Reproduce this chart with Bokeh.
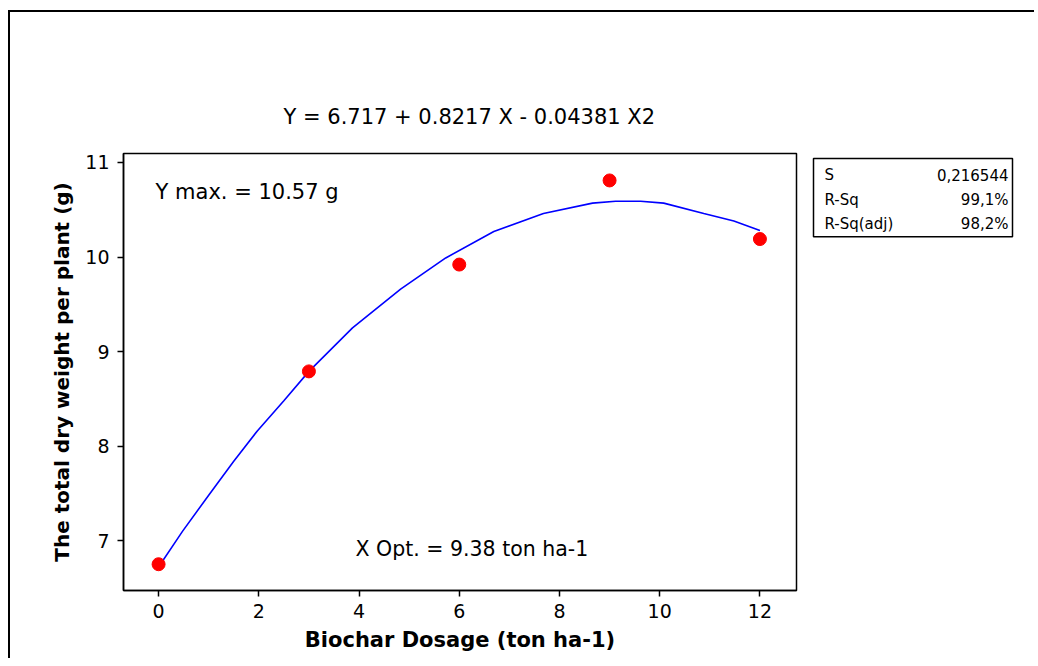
from bokeh.plotting import figure
from bokeh.models import Range1d, Label, FixedTicker
from bokeh.layouts import row
from bokeh.embed import file_html
from bokeh.resources import INLINE
from bokeh.core.properties import value

FONT = "DejaVu Sans"

# observed data
dose = [0, 3, 6, 9, 12]
dry_weight = [6.75, 8.79, 9.92, 10.81, 10.19]

# fitted curve vertices
fit_x = [0, 0.48, 1.0, 1.5, 1.97, 2.5, 3.0, 3.87, 4.83, 5.73, 6.69, 7.68, 8.66, 9.12, 9.62, 10.08, 10.88, 11.48, 12.0]
fit_y = [6.72, 7.10, 7.48, 7.84, 8.16, 8.48, 8.79, 9.25, 9.66, 9.99, 10.27, 10.46, 10.57, 10.59, 10.59, 10.57, 10.46, 10.38, 10.28]

x_ticks = [0, 2, 4, 6, 8, 10, 12]
y_ticks = [7, 8, 9, 10, 11]

equation = "Y =  6.717 + 0.8217 X - 0.04381 X2"
ymax_text = "Y max. =  10.57 g"
xopt_text = "X Opt. = 9.38 ton ha-1"
stat_names = ["S", "R-Sq", "R-Sq(adj)"]
stat_values = ["0,216544", "99,1%", "98,2%"]

H = 648
MBT, MBB = 141, 70

p = figure(width=800, height=H, output_backend="svg", toolbar_location=None,
           x_range=Range1d(-0.7, 12.73), y_range=Range1d(6.472, 11.095),
           min_border_left=113, min_border_right=14, min_border_top=MBT, min_border_bottom=MBB)
p.grid.visible = False
p.outline_line_color = "black"
p.outline_line_width = 1.5
p.background_fill_color = "white"
p.border_fill_color = "white"

p.title.text = equation
p.title.align = "left"
p.title.offset = 160
p.title.text_font = FONT
p.title.text_font_size = "21px"
p.title.text_font_style = "normal"
p.title.text_color = "black"
p.title.standoff = 49

p.xaxis.ticker = FixedTicker(ticks=x_ticks)
p.yaxis.ticker = FixedTicker(ticks=y_ticks)
for ax in (p.xaxis, p.yaxis):
    ax.axis_line_color = "black"
    ax.axis_line_width = 1.5
    ax.major_tick_line_color = "black"
    ax.major_tick_line_width = 1.5
    ax.major_tick_out = 6
    ax.major_tick_in = 0
    ax.minor_tick_line_color = None
    ax.major_label_text_font = FONT
    ax.major_label_text_font_size = "19px"
    ax.major_label_text_color = "black"
    ax.axis_label_text_font = FONT
    ax.axis_label_text_font_style = "bold"
    ax.axis_label_text_color = "black"
p.xaxis.axis_label_text_font_size = "21px"
p.yaxis.axis_label_text_font_size = "20px"
p.xaxis.axis_label = "Biochar Dosage (ton ha-1)"
p.yaxis.axis_label = "The total dry weight per plant (g)"
p.xaxis.major_label_standoff = 7
p.yaxis.major_label_standoff = 8
p.xaxis.axis_label_standoff = 7
p.yaxis.axis_label_standoff = 8

p.line(fit_x, fit_y, line_color="#0000ff", line_width=1.6)
p.scatter(dose, dry_weight, size=13, fill_color="#ff0000", line_color="#ff0000", marker="circle")

p.add_layout(Label(x=-0.06, y=10.69, text=ymax_text, text_align="left", text_baseline="middle",
                   text_font=FONT, text_font_size="21px", text_color="black"))
p.add_layout(Label(x=3.93, y=6.91, text=xopt_text, text_align="left", text_baseline="middle",
                   text_font=FONT, text_font_size="20.5px", text_color="black"))

# right panel with the statistics box (coordinates in page pixels)
q = figure(width=226, height=H, output_backend="svg", toolbar_location=None,
           x_range=Range1d(810, 1036), y_range=Range1d(589, 153),
           x_axis_type=None, y_axis_type=None,
           min_border_left=0, min_border_right=0, min_border_top=MBT, min_border_bottom=MBB)
q.grid.visible = False
q.outline_line_color = None
q.background_fill_color = "white"
q.border_fill_color = "white"
q.quad(left=[813], right=[1012], top=[158], bottom=[236], fill_color=None, line_color="black", line_width=1.5)
q.text(x=[824] * 3, y=[174, 199, 223], text=stat_names, text_align="left", text_baseline="middle",
       text_font=value(FONT), text_font_size="15px", text_color="black")
q.text(x=[1008] * 3, y=[174, 199, 223], text=stat_values, text_align="right", text_baseline="middle",
       text_font=value(FONT), text_font_size="15px", text_color="black")

layout = row(p, q)
layout.styles = {"position": "relative", "left": "10px", "top": "12px",
                 "box-shadow": "-2px -2px 0 0 black"}
open("out.html", "w").write(file_html(layout, INLINE))
